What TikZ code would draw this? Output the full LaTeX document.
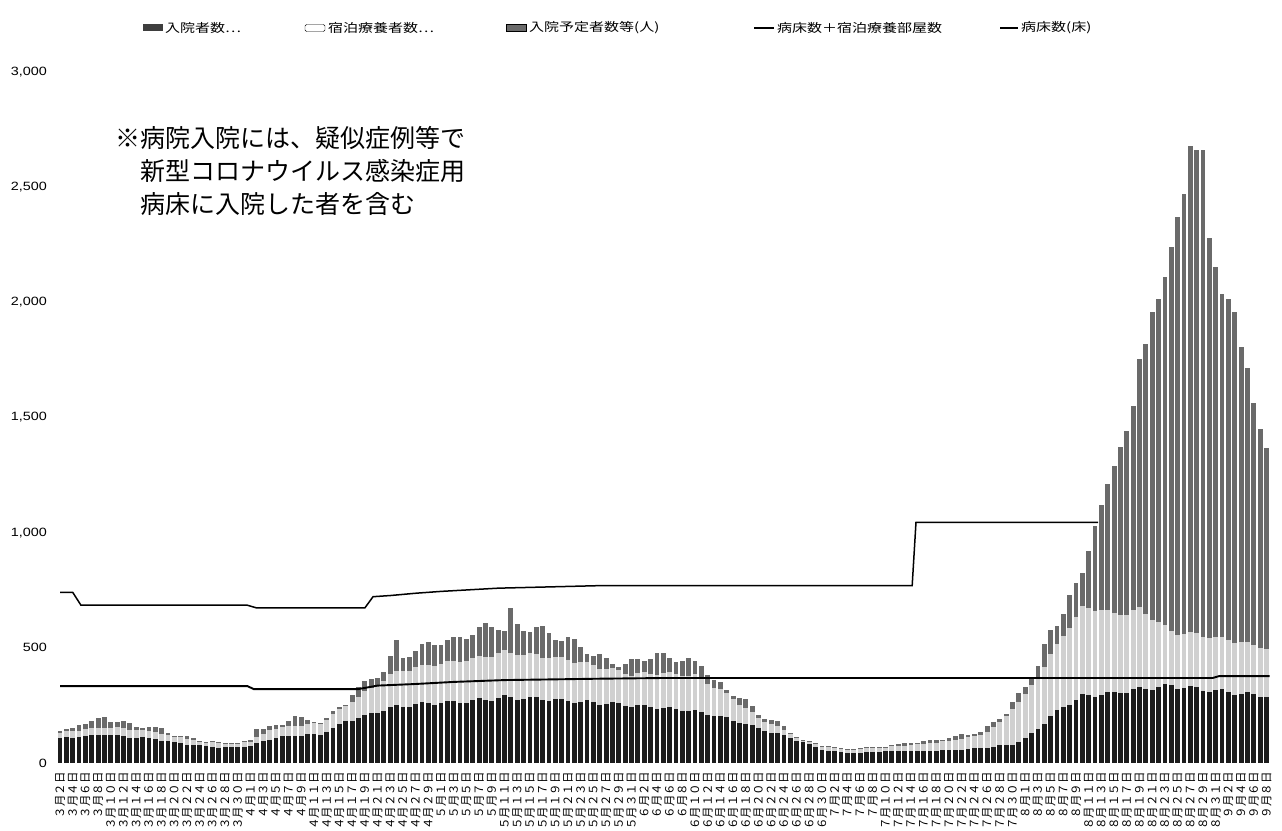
\documentclass[tikz,border=0pt]{standalone}
\usepackage{fontspec}
\newfontfamily\jp{Noto Sans CJK JP}
\newfontfamily\numf{Liberation Sans}
\definecolor{cB}{HTML}{1C1C1C}
\definecolor{cS}{HTML}{D0D0D0}
\definecolor{cP}{HTML}{6A6A6A}
\newcommand\fwdig[1]{\ifcase#1\relax ０\or １\or ２\or ３\or ４\or ５\or ６\or ７\or ８\or ９\fi}
\newcommand\fwnum[1]{\ifnum#1>9 \fwdig{\numexpr(#1-5)/10\relax}\fwdig{\numexpr#1-10*((#1-5)/10)\relax}\else\fwdig{#1}\fi}
\newcommand\mkseries[2]{%
  \gdef\pd{-1}\gdef\pv{0}%
  \foreach \da/\va in {#2}{%
    \ifnum\pd<0
      \expandafter\xdef\csname #1\da\endcsname{\va}%
    \else
      \foreach \dd in {\pd,...,\da}{%
        \pgfmathsetmacro\vv{\pv+(\va-\pv)*(\dd-\pd)/(\da-\pd)}%
        \expandafter\xdef\csname #1\dd\endcsname{\vv}%
      }%
    \fi
    \xdef\pd{\da}\xdef\pv{\va}%
  }%
}
\mkseries{T}{0/140,2/148,3/170,5/180,7/200,8/185,10/178,12/160,16/150,18/120,21/110,23/92,28/88,30/100,31/150,33/158,35/165,37/208,39/180,41/178,43/217,45/260,46/303,47/325,49/364,51/403,52/455,53/520,54/460,56/490,59/525,62/530,65/568,67/590,69/600,70/577,71/650,72/590,75/585,78/550,80/535,82/510,84/468,86/447,89/425,91/450,94/468,96/460,99/440,101/430,102/395,103/360,105/316,108/273,110/208,113/178,115/134,117/100,120/78,124/60,126/65,130/74,135/91,138/100,140/108,142/121,144/130,145/134,146/156,147/175,148/195,149/217,150/260,151/295,152/330,153/377,154/425,155/503,156/564,157/603,158/668,159/729,160/780,161/824,162/920,163/1030,164/1120,165/1210,166/1290,167/1370,168/1440,169/1552,170/1756,171/1817,172/1956,173/2016,174/2108,175/2242,176/2372,177/2472,178/2680,179/2663,180/2663,181/2281,182/2155,183/2038,184/2016,185/1960,186/1808,187/1713,188/1565,189/1450,190/1366}
\mkseries{B}{0/105,3/115,7/125,10/115,15/105,20/80,25/68,30/72,33/105,37/120,41/125,43/150,45/180,48/205,52/240,56/255,60/262,65/270,70/285,75/280,80/270,85/260,90/250,95/240,100/225,105/195,110/150,115/110,118/80,120/56,125/42,130/50,140/55,145/65,150/80,152/105,154/150,156/200,158/245,161/290,165/300,170/320,175/335,180/320,185/305,190/290}
\mkseries{S}{0/25,10/35,20/25,30/20,33/40,40/45,45/70,50/120,53/150,60/170,70/195,80/180,90/135,95/150,100/155,105/105,110/45,115/20,120/15,130/18,140/40,145/55,148/100,150/155,152/190,154/225,156/270,158/310,161/385,164/370,166/340,168/340,170/350,172/305,175/235,180/235,185/225,190/210}
\begin{document}
\begin{tikzpicture}[x=1pt,y=1pt,
  ylab/.style={anchor=east,inner sep=0pt,font=\numf\fontsize{12}{12}\selectfont},
  xlab/.style={anchor=east,rotate=90,inner sep=0pt,font=\jp\fontsize{11.5}{11.5}\selectfont},
  leg/.style={anchor=west,inner sep=0pt,font=\jp\fontsize{12}{12}\selectfont},
  note/.style={anchor=west,inner sep=0pt,font=\jp\fontsize{25}{25}\selectfont},
  lineA/.style={draw=black,line width=1.5pt},
  lineB/.style={draw=black,line width=1.9pt}]
\useasboundingbox (0,0) rectangle (1282,830);
\fill[white] (0,0) rectangle (1282,830);
% y axis labels
\foreach \v/\lab in {0/0,500/500,1000/{1,000},1500/{1,500},2000/{2,000},2500/{2,500},3000/{3,000}}{
  \node[ylab] (y\v) at (47,{67+\v*0.23033}) {\scalebox{1.2}[1]{\lab}};
}
% bars
\foreach \i in {0,...,190}{%
  \edef\tT{\csname T\i\endcsname}\edef\tB{\csname B\i\endcsname}\edef\tS{\csname S\i\endcsname}%
  \pgfmathsetmacro\tv{\tT*(1+0.035*sin(\i*77)*(\i<160))}%
  \pgfmathsetmacro\bv{\tB*(1+0.03*sin(\i*83+40))}%
  \pgfmathsetmacro\sv{max(0,min(\tS,\tv-\bv-3))}%
  \pgfmathsetmacro\xx{60+6.35*\i}%
  \pgfmathsetmacro\ya{67+\bv*0.23033}%
  \pgfmathsetmacro\yb{\ya+\sv*0.23033}%
  \pgfmathsetmacro\yc{max(\yb,67+\tv*0.23033)}%
  \fill[cB] (\xx-2.4,67) rectangle (\xx+2.4,\ya);
  \fill[cS] (\xx-2.4,\ya) rectangle (\xx+2.4,\yb);
  \fill[cP] (\xx-2.4,\yb) rectangle (\xx+2.4,\yc);
}
% lines
\draw[lineA] (60,{67+741*0.23033}) \foreach \d/\v in {2/741,3.3/685,29.5/685,31/673,48/673,49.3/722,52/727,56/737,60/745,69/759,85/770,134.2/770,134.8/1045,163.5/1045}{ -- ({60+6.35*\d},{67+\v*0.23033}) };
\draw[lineB] (60,{67+334*0.23033}) \foreach \d/\v in {29.5/334,30.5/321,47/321,50/336,56/343,62/352,70/360,85/366,95/369,181.5/369,182.5/377,190.5/377}{ -- ({60+6.35*\d},{67+\v*0.23033}) };
% x labels
\foreach \m/\off/\st/\en in {3/-2/2/30,4/29/1/29,5/59/1/31,6/90/2/30,7/120/2/30,8/151/1/31,9/182/2/8}{
  \pgfmathtruncatemacro\stt{\st+2}
  \foreach \dd in {\st,\stt,...,\en}{
    \pgfmathsetmacro\xx{60+6.35*(\dd+\off)}
    \node[xlab] (xl-\m-\dd) at (\xx,58) {\fwdig{\m}月\fwnum{\dd}日};
  }
}
% legend
\fill[cB!85] (143,798.5) rectangle (163,805.5);
\node[leg] (l1) at (165,802) {\scalebox{1.25}[1]{入院者数…}};
\draw[black,fill=white,rounded corners=1.5pt] (305,798.5) rectangle (325,805.5);
\node[leg] (l2) at (328,802) {\scalebox{1.25}[1]{宿泊療養者数…}};
\draw[black,fill=cP] (506,798.5) rectangle (526,805.5);
\node[leg] (l3) at (529,802) {\scalebox{1.25}[1]{入院予定者数等(人)}};
\draw[black,line width=1.3pt] (754,802) -- (774,802);
\node[leg] (l4) at (777,802) {\scalebox{1.25}[1]{病床数＋宿泊療養部屋数}};
\draw[black,line width=1.3pt] (1000,802) -- (1018,802);
\node[leg] (l5) at (1021,802) {\scalebox{1.25}[1]{病床数(床)}};
% note
\node[note] (n1) at (115,692) {※病院入院には、疑似症例等で};
\node[note] (n2) at (140,659) {新型コロナウイルス感染症用};
\node[note] (n3) at (140,626) {病床に入院した者を含む};
\end{tikzpicture}
\end{document}
